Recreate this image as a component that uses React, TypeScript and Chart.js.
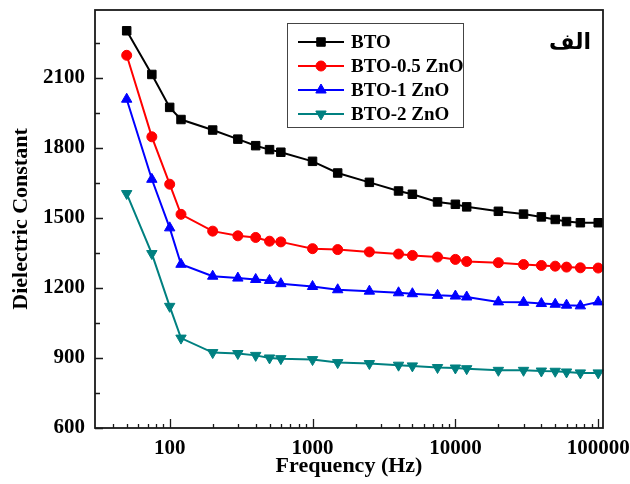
import React, { useEffect, useRef } from 'react';
import { Chart, registerables } from 'chart.js';
import { drawPoint } from 'chart.js/helpers';

Chart.register(...registerables);

const frequencies = [50, 75, 100, 120, 200, 300, 400, 500, 600, 1000, 1500, 2500, 4000, 5000, 7500, 10000, 12000, 20000, 30000, 40000, 50000, 60000, 75000, 100000];
const btoValues = [2301, 2114, 1973, 1921, 1876, 1837, 1809, 1792, 1781, 1742, 1692, 1652, 1615, 1601, 1568, 1558, 1547, 1528, 1516, 1504, 1493, 1484, 1479, 1479];
const bto05Values = [2196, 1847, 1644, 1515, 1443, 1423, 1416, 1400, 1397, 1368, 1364, 1354, 1345, 1339, 1332, 1322, 1313, 1308, 1300, 1296, 1293, 1289, 1286, 1285];
const bto1Values = [2008, 1665, 1457, 1301, 1250, 1242, 1236, 1232, 1218, 1206, 1192, 1186, 1179, 1175, 1168, 1165, 1161, 1140, 1138, 1133, 1130, 1126, 1123, 1140];
const bto2Values = [1604, 1347, 1121, 985, 923, 919, 911, 900, 897, 893, 880, 876, 869, 866, 859, 857, 854, 847, 847, 844, 843, 840, 836, 836];

const seriesLabels = ['BTO', 'BTO-0.5 ZnO', 'BTO-1 ZnO', 'BTO-2 ZnO'];
const seriesColors = ['#000000', '#ff0000', '#0000ff', '#008080'];

const yTickLabels = [600, 900, 1200, 1500, 1800, 2100];
const yMinorTicks = [750, 1050, 1350, 1650, 1950, 2250];
const xTickLabels = [100, 1000, 10000, 100000];

const cornerText = 'الف';
const FONT = "'Liberation Serif', 'Times New Roman', serif";

const framePlugin = {
  id: 'frameTicks',
  afterDatasetsDraw(chart: any) {
    const { ctx, chartArea, scales } = chart;
    const { left, right, top, bottom } = chartArea;
    const x = scales.x;
    const y = scales.y;
    ctx.save();
    ctx.strokeStyle = '#1a1a1a';
    ctx.lineWidth = 1.8;
    ctx.strokeRect(left, top, right - left, bottom - top);
    ctx.lineWidth = 1.3;
    ctx.beginPath();
    yTickLabels.forEach((v) => {
      const py = Math.round(y.getPixelForValue(v)) + 0.5;
      ctx.moveTo(left, py);
      ctx.lineTo(left + 8, py);
    });
    yMinorTicks.forEach((v) => {
      const py = Math.round(y.getPixelForValue(v)) + 0.5;
      ctx.moveTo(left, py);
      ctx.lineTo(left + 5, py);
    });
    const xmin = x.min;
    const xmax = x.max;
    for (let d = 10; d <= 100000; d *= 10) {
      for (let m = 1; m <= 9; m++) {
        const v = d * m;
        if (v <= xmin || v > xmax) continue;
        const px = Math.round(x.getPixelForValue(v)) + 0.5;
        const len = m === 1 ? 9 : 4;
        ctx.moveTo(px, bottom);
        ctx.lineTo(px, bottom - len);
      }
    }
    ctx.stroke();

    // legend
    const bx = 287, by = 23, bw = 176, bh = 104;
    ctx.lineWidth = 1;
    ctx.strokeStyle = '#444';
    ctx.strokeRect(bx + 0.5, by + 0.5, bw, bh);
    const rowY = [42, 66, 90, 114];
    chart.data.datasets.forEach((ds: any, i: number) => {
      const ry = rowY[i];
      ctx.strokeStyle = ds.borderColor;
      ctx.lineWidth = 2;
      ctx.beginPath();
      ctx.moveTo(298, ry);
      ctx.lineTo(344, ry);
      ctx.stroke();
      ctx.fillStyle = ds.pointBackgroundColor;
      ctx.strokeStyle = ds.pointBorderColor;
      ctx.lineWidth = 1;
      drawPoint(ctx, { pointStyle: ds.pointStyle, rotation: ds.pointRotation || 0, radius: ds.pointRadius, borderWidth: 1 }, 321, ry);
      ctx.fillStyle = '#000';
      ctx.font = `bold 19px ${FONT}`;
      ctx.textAlign = 'left';
      ctx.textBaseline = 'middle';
      ctx.fillText(ds.label, 351, ry + 1);
    });

    ctx.fillStyle = '#000';
    ctx.font = `bold 22px ${FONT}, 'DejaVu Sans'`;
    ctx.textAlign = 'center';
    ctx.textBaseline = 'middle';
    ctx.fillText(cornerText, 570, 43);
    ctx.restore();
  },
};

export default function App() {
  const ref = useRef<HTMLCanvasElement | null>(null);
  useEffect(() => {
    document.body.style.margin = '0';
    const styles = [
      { pointStyle: 'rect', pointRotation: 0, pointRadius: 6 },
      { pointStyle: 'circle', pointRotation: 0, pointRadius: 5 },
      { pointStyle: 'triangle', pointRotation: 0, pointRadius: 6 },
      { pointStyle: 'triangle', pointRotation: 180, pointRadius: 6 },
    ];
    const series = [btoValues, bto05Values, bto1Values, bto2Values];
    const chart = new Chart(ref.current as HTMLCanvasElement, {
      type: 'line',
      data: {
        datasets: series.map((vals, i) => ({
          label: seriesLabels[i],
          data: frequencies.map((f, j) => ({ x: f, y: vals[j] })),
          borderColor: seriesColors[i],
          backgroundColor: seriesColors[i],
          pointBackgroundColor: seriesColors[i],
          pointBorderColor: seriesColors[i],
          pointBorderWidth: 1,
          borderWidth: 2,
          tension: 0,
          clip: false as any,
          ...styles[i],
        })),
      },
      options: {
        animation: false,
        responsive: false,
        devicePixelRatio: 1,
        layout: { padding: { top: 10, right: 27, left: 0, bottom: 0 } },
        plugins: { legend: { display: false }, tooltip: { enabled: false } },
        scales: {
          x: {
            type: 'logarithmic',
            min: 30,
            max: 108000,
            grid: { display: false, drawTicks: false },
            border: { display: false },
            afterBuildTicks: (s: any) => {
              s.ticks = xTickLabels.map((v) => ({ value: v }));
            },
            afterFit: (s: any) => {
              s.height = 56;
              s.paddingLeft = 0;
              s.paddingRight = 0;
            },
            ticks: {
              color: '#000',
              padding: 8,
              maxRotation: 0,
              autoSkip: false,
              font: { family: FONT, size: 21, weight: 'bold' },
              callback: (v: any) => String(v),
            },
            title: {
              display: true,
              text: 'Frequency (Hz)',
              color: '#000',
              font: { family: FONT, size: 22, weight: 'bold' },
              padding: { top: 0, bottom: 4 },
            },
          },
          y: {
            type: 'linear',
            min: 600,
            max: 2390,
            grid: { display: false, drawTicks: false },
            border: { display: false },
            afterBuildTicks: (s: any) => {
              s.ticks = yTickLabels.map((v) => ({ value: v }));
            },
            afterFit: (s: any) => {
              s.width = 95;
              s.paddingTop = 0;
              s.paddingBottom = 0;
            },
            ticks: {
              color: '#000',
              padding: 10,
              autoSkip: false,
              font: { family: FONT, size: 21, weight: 'bold' },
              callback: (v: any) => String(v),
            },
            title: {
              display: true,
              text: 'Dielectric Constant',
              color: '#000',
              font: { family: FONT, size: 22, weight: 'bold' },
              padding: { top: 8, bottom: 0 },
            },
          },
        },
      },
      plugins: [framePlugin],
    } as any);
    return () => chart.destroy();
  }, []);
  return (
    <div style={{ position: 'absolute', left: 0, top: 0, width: 630, height: 484, background: '#fff' }}>
      <canvas ref={ref} width={630} height={484} />
    </div>
  );
}
